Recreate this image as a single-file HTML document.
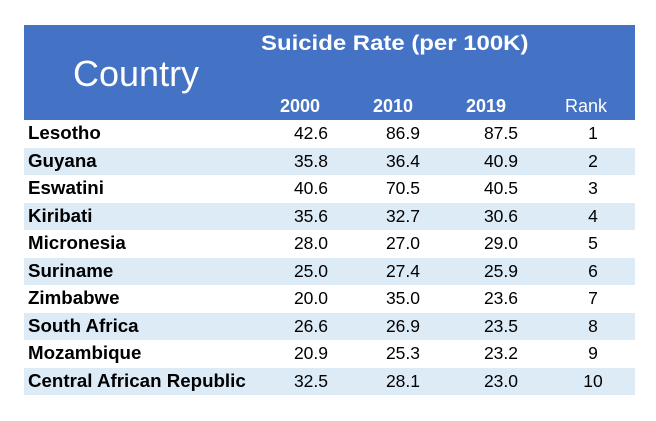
<!DOCTYPE html>
<html><head><meta charset="utf-8"><style>
body{margin:0;width:656px;height:421px;background:#fff;position:relative;overflow:hidden;font-family:"Liberation Sans",sans-serif}
.hdr{position:absolute;left:24px;top:25px;width:611px;height:95px;background:#4472C4}
.t{position:absolute;color:#fff;white-space:nowrap;transform-origin:left top}
.row{position:absolute;left:24px;width:611px;height:27.5px}
.row span{position:absolute;top:3px;font-size:17.5px;color:#000;white-space:nowrap}
.row span.n{left:4px;font-weight:bold;font-size:18px;transform:scaleX(1.04);transform-origin:left top;top:3px}
.v{text-align:right;width:60px}
</style></head><body>
<div class="hdr"></div>
<div class="t" style="left:73px;top:53px;font-size:36px">Country</div>
<div class="t" style="left:261px;top:32px;font-size:21px;font-weight:bold;transform:scaleX(1.14)">Suicide Rate (per 100K)</div>
<div class="t" style="left:280px;top:96px;font-size:18px;font-weight:bold">2000</div>
<div class="t" style="left:373px;top:96px;font-size:18px;font-weight:bold">2010</div>
<div class="t" style="left:466px;top:96px;font-size:18px;font-weight:bold">2019</div>
<div class="t" style="left:565px;top:96px;font-size:18px">Rank</div>
<div id="rows"></div>
<script>
const countries=["Lesotho","Guyana","Eswatini","Kiribati","Micronesia","Suriname","Zimbabwe","South Africa","Mozambique","Central African Republic"];
const v2000=["42.6","35.8","40.6","35.6","28.0","25.0","20.0","26.6","20.9","32.5"];
const v2010=["86.9","36.4","70.5","32.7","27.0","27.4","35.0","26.9","25.3","28.1"];
const v2019=["87.5","40.9","40.5","30.6","29.0","25.9","23.6","23.5","23.2","23.0"];
const ranks=["1","2","3","4","5","6","7","8","9","10"];
const c=document.getElementById('rows');
countries.forEach((name,i)=>{
  const r=document.createElement('div');
  r.className='row';
  r.style.top=(120+i*27.5)+'px';
  r.style.background=i%2?'#DDEBF7':'#fff';
  
  
  const mk=(txt,cls,left,nm)=>{const s=document.createElement('span');s.className=cls;s.textContent=txt;if(left!=null)s.style.left=left+'px';
    
    
    r.appendChild(s);};
  mk(name,'n',null,'country-name');
  mk(v2000[i],'v',244,'value-2000');
  mk(v2010[i],'v',336,'value-2010');
  mk(v2019[i],'v',434,'value-2019');
  const rs=document.createElement('span');rs.textContent=ranks[i];rs.style.left='549px';rs.style.width='40px';rs.style.textAlign='center';
  
  
  r.appendChild(rs);
  c.appendChild(r);
});
</script>
</body></html>
